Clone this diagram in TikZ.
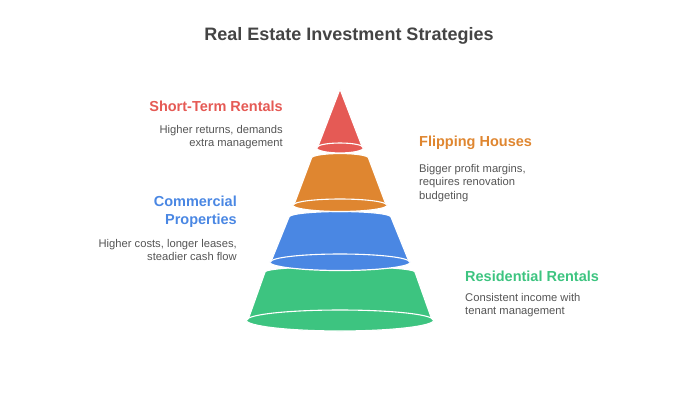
\documentclass[tikz,border=0pt]{standalone}
\usepackage{fontspec}
\setmainfont{Liberation Sans}
\definecolor{cred}{HTML}{E55A55}
\definecolor{corange}{HTML}{DF8630}
\definecolor{cblue}{HTML}{4A87E3}
\definecolor{cgreen}{HTML}{3DC480}
\definecolor{ttl}{HTML}{444444}
\definecolor{dsc}{HTML}{555555}
\tikzset{
  layer/.style={draw=white, line width=1.2pt, line join=round},
  rim/.style={draw=white, line width=1.1pt, line cap=round},
  head/.style={font=\bfseries\fontsize{14.5}{18}\selectfont, inner sep=0pt},
  desc/.style={font=\fontsize{11.2}{13.5}\selectfont, text=dsc, inner sep=0pt},
}
\begin{document}
\begin{tikzpicture}[x=1pt,y=-1pt]
\useasboundingbox (0,0) rectangle (700,400);
% green layer
\path[layer, fill=cgreen] (265,272) arc[start angle=180,end angle=0,x radius=75pt,y radius=5.5pt]
  -- (431,317) -- (434,320) arc[start angle=0,end angle=-180,x radius=94pt,y radius=11pt] -- (249,317) -- cycle;
\draw[rim] (247,320) arc[start angle=180,end angle=0,x radius=93pt,y radius=10pt];
% blue layer
\path[layer, fill=cblue] (289,217) arc[start angle=180,end angle=0,x radius=51pt,y radius=5.5pt]
  -- (408,259) -- (410.5,262) arc[start angle=0,end angle=-180,x radius=70.5pt,y radius=8.5pt] -- (272,259) -- cycle;
\draw[rim] (270.5,262) arc[start angle=180,end angle=0,x radius=69.5pt,y radius=8pt];
% orange layer
\path[layer, fill=corange] (311.5,158) arc[start angle=180,end angle=0,x radius=28.5pt,y radius=4.5pt]
  -- (385,202) -- (387.5,205) arc[start angle=0,end angle=-180,x radius=47.5pt,y radius=6.5pt] -- (295,202) -- cycle;
\draw[rim] (293.5,205) arc[start angle=180,end angle=0,x radius=46.5pt,y radius=6pt];
% red layer
\path[layer, fill=cred] (340,89) -- (361.5,145) -- (364,147.5) arc[start angle=0,end angle=-180,x radius=24pt,y radius=5.5pt] -- (318.5,145) -- cycle;
\draw[rim] (317,147.5) arc[start angle=180,end angle=0,x radius=23pt,y radius=4.5pt];
% title
\node[font=\bfseries\fontsize{18}{22}\selectfont, text=ttl, inner sep=0pt] (title) at (349,36) {Real Estate Investment Strategies};
% labels
\node[head, text=cred, anchor=east] (h1) at (283,106) {Short-Term Rentals};
\node[desc, anchor=north east, align=right] (d1) at (283,125) {Higher returns, demands\\extra management};
\node[head, text=corange, anchor=west] (h2) at (419,143) {Flipping Houses};
\node[desc, anchor=north west, align=left] (d2) at (419,164) {Bigger profit margins,\\requires renovation\\budgeting};
\node[head, text=cblue, anchor=north east, align=right] (h3) at (237,196) {Commercial\\Properties};
\node[desc, anchor=north east, align=right] (d3) at (237,239) {Higher costs, longer leases,\\steadier cash flow};
\node[head, text=cgreen, anchor=west] (h4) at (465,276) {Residential Rentals};
\node[desc, anchor=north west, align=left] (d4) at (465,293) {Consistent income with\\tenant management};
\end{tikzpicture}
\end{document}
